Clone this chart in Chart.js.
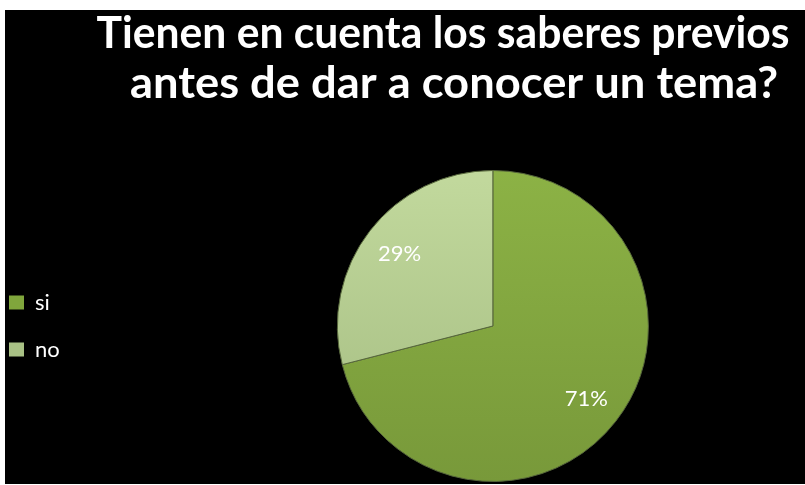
<!DOCTYPE html>
<html>
<head>
<meta charset="utf-8">
<script src="https://cdn.jsdelivr.net/npm/chart.js@4"></script>
<style>
  html, body { margin: 0; background: #fff; }
  #frame { position: absolute; left: 5px; top: 10px; width: 800px; height: 474px; background: #000; overflow: hidden; }
  #pieChart { position: absolute; left: -21px; top: 0; }
</style>
</head>
<body>
<div id="frame"><canvas id="pieChart" width="932" height="472"></canvas></div>
<script>
const categories = ['si', 'no'];
const percentages = [71, 29];
const titleLines = ['Tienen en cuenta los saberes previos', 'antes de dar a conocer un tema?'];

// slice shading, light at the top, darker towards the bottom
const topColors = ['#8cb245', '#c2d99d'];
const bottomColors = ['#78993a', '#a3bb80'];
const legendColors = ['#80a63c', '#a9c185'];

function sliceFill(context) {
    const chart = context.chart;
    const area = chart.chartArea;
    const i = context.dataIndex;
    if (!area) {
        return legendColors[i];
    }
    const g = chart.ctx.createLinearGradient(0, area.top, 0, area.bottom);
    g.addColorStop(0, topColors[i]);
    g.addColorStop(1, bottomColors[i]);
    return g;
}

// title drawn a bit condensed, like the slide's Calibri
const titleBoxes = [{ cx: 459, w: 693 }, { cx: 470, w: 648 }];

const slideTitle = {
    id: 'slideTitle',
    afterDraw(chart) {
        const ctx = chart.ctx;
        ctx.save();
        ctx.font = 'bold 43px Lato';
        ctx.fillStyle = '#fff';
        ctx.textAlign = 'center';
        ctx.textBaseline = 'alphabetic';
        titleLines.forEach((line, i) => {
            const sx = titleBoxes[i].w / ctx.measureText(line).width;
            ctx.save();
            ctx.translate(titleBoxes[i].cx, 38 + i * 50);
            ctx.scale(sx, 1);
            ctx.fillText(line, 0, 0);
            ctx.restore();
        });
        ctx.restore();
    },
};

const percentLabels = {
    id: 'percentLabels',
    afterDatasetsDraw(chart) {
        const ctx = chart.ctx;
        const meta = chart.getDatasetMeta(0);
        ctx.save();
        ctx.font = '22px Lato';
        ctx.fillStyle = '#fff';
        ctx.textAlign = 'center';
        ctx.textBaseline = 'middle';
        meta.data.forEach((arc, i) => {
            const { x, y, startAngle, endAngle, outerRadius } =
                arc.getProps(['x', 'y', 'startAngle', 'endAngle', 'outerRadius'], true);
            const mid = (startAngle + endAngle) / 2;
            const r = outerRadius * 0.76;
            ctx.fillText(percentages[i] + '%', x + Math.cos(mid) * r, y + Math.sin(mid) * r);
        });
        ctx.restore();
    },
};

new Chart(document.getElementById('pieChart'), {
    type: 'pie',
    data: {
        labels: categories,
        datasets: [{
            data: percentages,
            backgroundColor: sliceFill,
            borderColor: '#56663b',
            borderWidth: 1,
        }],
    },
    options: {
        responsive: false,
        animation: false,
        layout: { padding: { top: 160 } },
        plugins: {
            tooltip: { enabled: false },
            legend: {
                position: 'left',
                labels: {
                    color: '#fff',
                    font: { family: 'Lato', size: 22 },
                    boxWidth: 15,
                    boxHeight: 14,
                    padding: 25,
                    generateLabels(chart) {
                        const items = Chart.overrides.pie.plugins.legend.labels.generateLabels(chart);
                        return items.map((item, i) => ({
                            ...item,
                            fillStyle: legendColors[i],
                            strokeStyle: legendColors[i],
                            lineWidth: 0,
                        }));
                    },
                },
            },
        },
    },
    plugins: [slideTitle, percentLabels],
});
</script>
</body>
</html>
